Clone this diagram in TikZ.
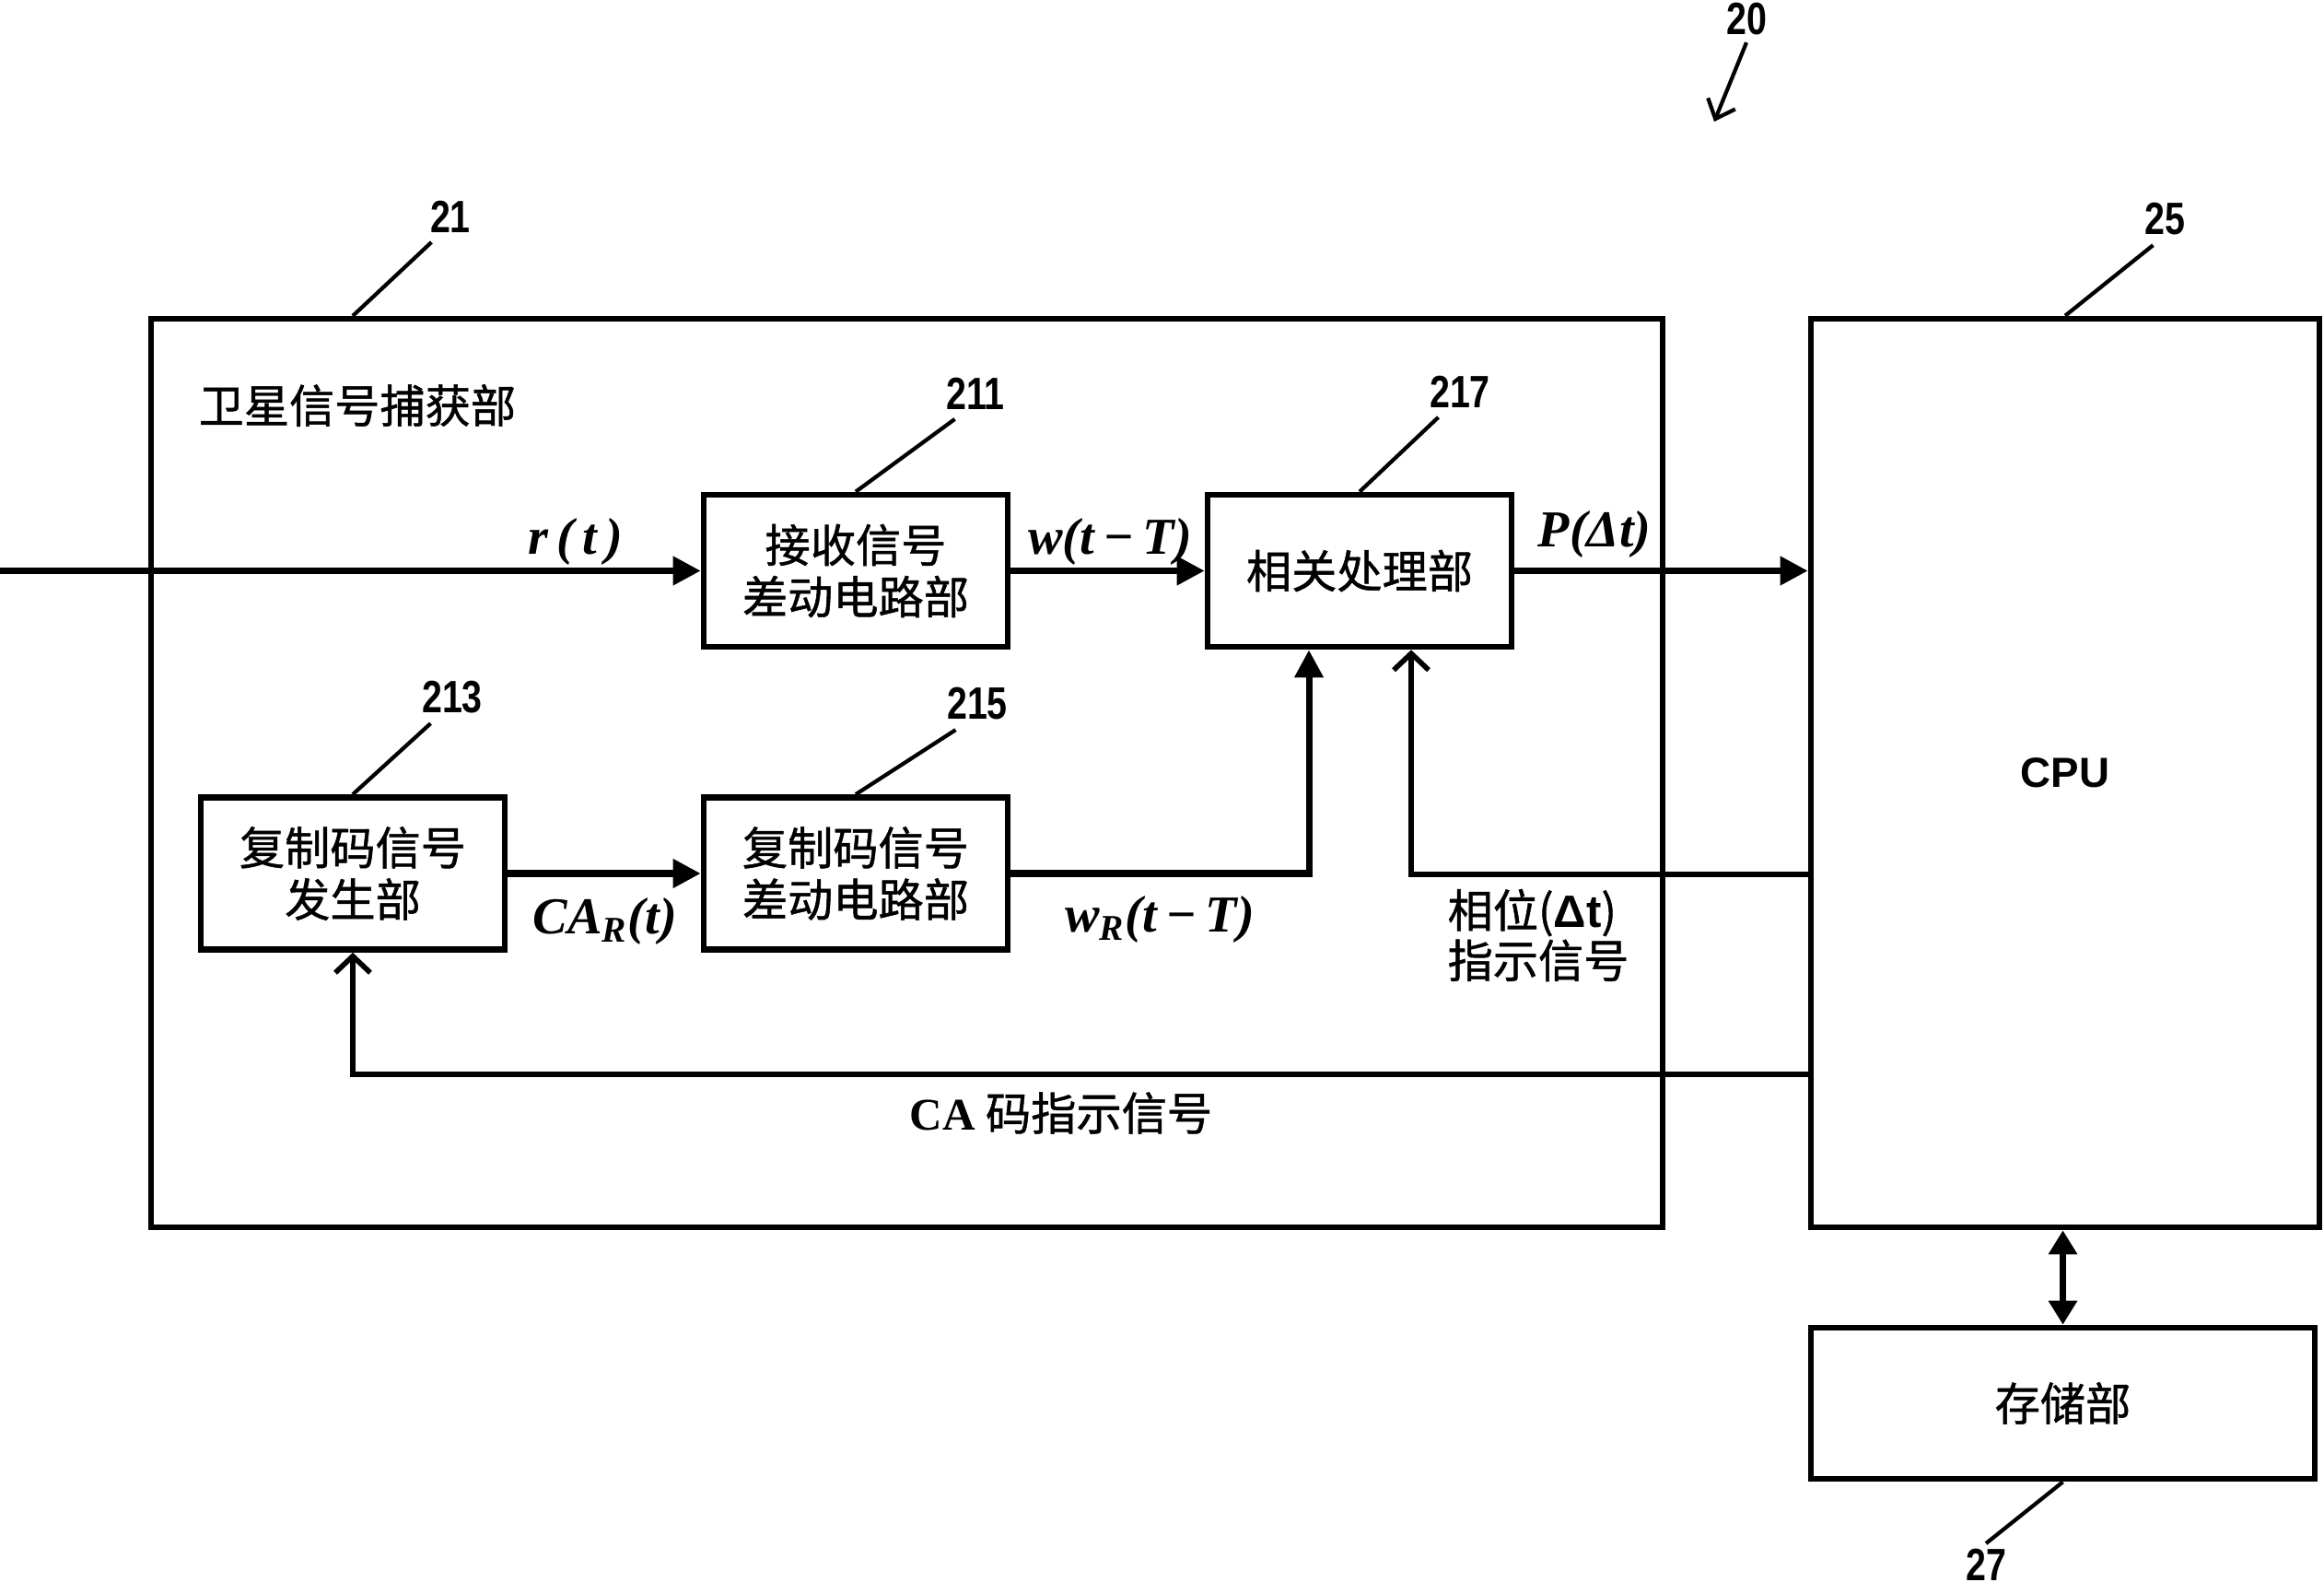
\documentclass[tikz,border=0pt]{standalone}
\usepackage{fontspec}
\usepackage{tikz}
\usetikzlibrary{arrows.meta}
\setmainfont{Liberation Serif}
\newfontfamily\cjk[FakeBold=1]{Noto Sans CJK SC}
\newfontfamily\numfont[FakeStretch=0.8]{Liberation Sans}
\newfontfamily\cpufont{Liberation Sans}

\begin{document}
\begin{tikzpicture}[x=1cm,y=-1cm,
	blk/.style={draw,line width=1.9pt,inner sep=0pt,minimum width=3.3cm,minimum height=1.65cm,align=center,font=\cjk\fontsize{14}{16}\selectfont},
	acqbox/.style={draw,line width=1.8pt,inner sep=0pt,minimum width=16.41cm,minimum height=9.86cm},
	num/.style={inner sep=0pt,font=\numfont\bfseries\fontsize{14}{14}\selectfont},
	sl/.style={inner sep=0pt,font=\fontsize{16}{18}\selectfont\bfseries\itshape},
	txt/.style={inner sep=0pt,align=left,font=\cjk\fontsize{14}{14}\selectfont},
	lead/.style={line width=1.2pt},
	sig/.style={line width=2pt,-{Triangle[length=0.3cm,width=0.3cm]}},
	fb/.style={line width=1.6pt,-{Straight Barb[length=0.18cm,width=0.38cm]}}]
	\useasboundingbox (0,0) rectangle (25.23,17.29);

	%blocks
	\node[acqbox] (acq) at (9.845,8.39) {};
	\node[blk] (rx) at (9.29,6.195) {接收信号\\差动电路部};
	\node[blk] (corr) at (14.76,6.195) {相关处理部};
	\node[blk] (gen) at (3.83,9.48) {复制码信号\\发生部};
	\node[blk] (rep) at (9.29,9.48) {复制码信号\\差动电路部};
	\node[draw,line width=1.9pt,minimum width=5.52cm,minimum height=9.86cm,font=\cpufont\bfseries\fontsize{13}{13}\selectfont] (cpu) at (22.42,8.39) {CPU};
	\node[blk,minimum width=5.47cm,minimum height=1.64cm] (mem) at (22.395,15.23) {存储部};

	%signal path
	\coordinate (src) at (0,6.195);
	\draw[sig] (src) -- (rx.west);
	\draw[sig] (rx.east) -- (corr.west);
	\draw[sig] (corr.east) -- (cpu.west |- corr.east);
	\draw[sig] (gen.east) -- (rep.west);
	\draw[sig] (rep.east) -| ([xshift=-0.55cm]corr.south);
	%
	\coordinate (phout) at ([yshift=-1.1cm]cpu.west);
	\coordinate (caout) at ([yshift=-3.27cm]cpu.west);
	\draw[fb] (phout) -| ([xshift=0.56cm]corr.south);
	\draw[fb] (caout) -| (gen.south);
	\draw[line width=1.8pt,{Triangle[length=0.26cm,width=0.3cm]}-{Triangle[length=0.26cm,width=0.3cm]}] (mem.north |- cpu.south) -- (mem.north);

	%labels
	\node[txt,anchor=west] (title) at (2.15,4.40) {卫星信号捕获部};
	\node[sl] (lr) at (6.25,5.88) {r\,(\,t\,)};
	\node[sl] (lw) at (12.05,5.88) {w(t\,−\,T)};
	\node[sl] (lp) at (17.31,5.80) {P(Δt)};
	\node[sl] (lca) at (6.57,10.00) {CA\textsubscript{R}(t)};
	\node[sl] (lwr) at (12.59,9.98) {w\textsubscript{R}(t\,−\,T)};
	\node[txt] (lph) at (16.70,10.15) {相位({\cpufont\bfseries Δt})\\指示信号};
	\node[txt] (lcode) at (11.52,12.08) {{\rmfamily\bfseries CA} 码指示信号};

	%reference numbers
	\foreach \lab/\px/\py in {20/18.96/0.21,21/4.89/2.35,211/10.59/4.27,217/15.85/4.25,213/4.91/7.57,215/10.61/7.64,25/23.50/2.38,27/21.56/16.98}
	\node[num] (n\lab) at (\px,\py) {\lab};
	%
	\foreach \lab/\tgt in {211/rx.north,217/corr.north,213/gen.north,215/rep.north,25/cpu.north}
	\draw[lead] ([xshift=1mm,yshift=-1mm]n\lab.south west) -- (\tgt);
	\draw[lead] ([xshift=0.2mm,yshift=-1mm]n21.south west) -- (acq.north -| gen.north);
	\draw[lead] (mem.south) -- ([yshift=0.5mm]n27.north);
	\coordinate (arr20) at (18.61,1.32);
	\draw[lead,-{Straight Barb[length=0.18cm,width=0.32cm]}] ([yshift=-0.7mm]n20.south) -- (arr20);
\end{tikzpicture}
\end{document}
